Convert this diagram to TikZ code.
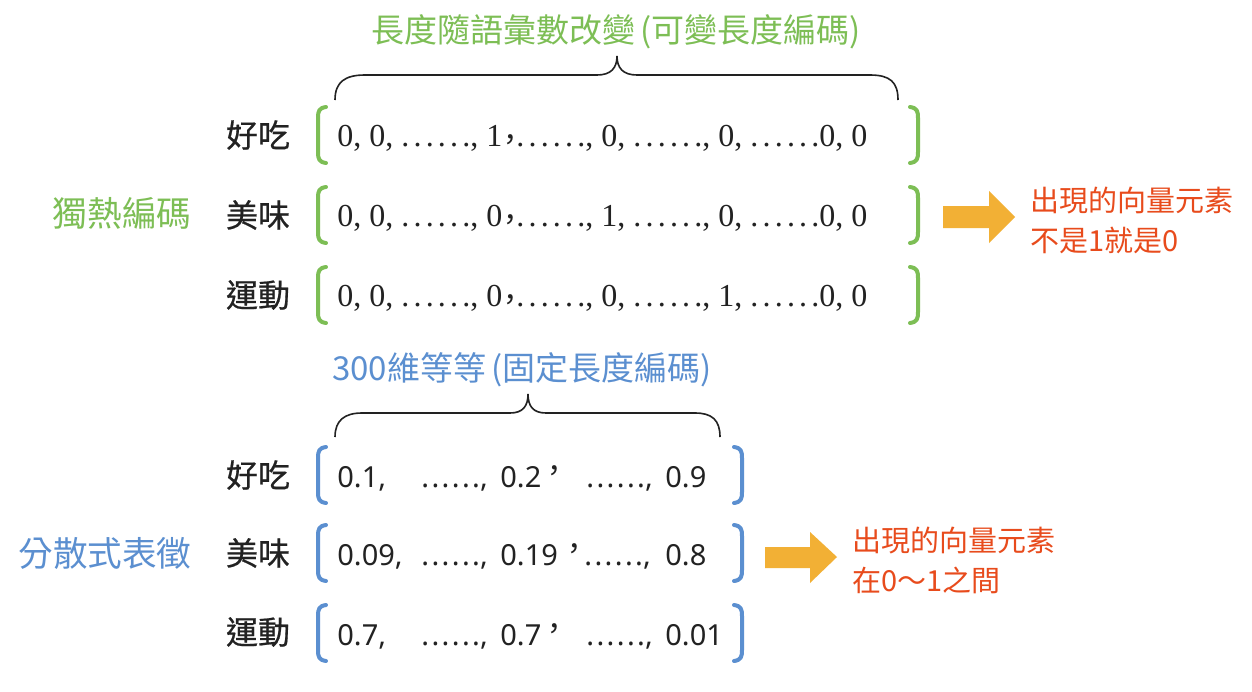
\documentclass[tikz,border=0pt]{standalone}
\usepackage{fontspec}
\setmainfont{Noto Sans CJK TC}
\newfontfamily\cjk{Noto Sans CJK TC}
\newfontfamily\cjkm[FakeBold=0.6]{Noto Sans CJK TC}
\newfontfamily\sernum{Liberation Serif}
\newfontfamily\sansnum{Noto Sans}
\definecolor{gr}{HTML}{7DBE55}
\definecolor{bl}{HTML}{5B8FD0}
\definecolor{og}{HTML}{F2B035}
\definecolor{rd}{HTML}{E84B1C}
\definecolor{ink}{HTML}{222222}
\newlength\dk
\newcommand\dd{.\kern\dk.\kern\dk.\kern\dk.\kern\dk.\kern\dk.}
\newcommand\fcomma{\makebox[1pt][c]{，}}
\begin{document}
\begin{tikzpicture}[x=0.5pt,y=-0.5pt,
  title/.style={font=\cjk\fontsize{16.5}{19}\selectfont, inner sep=0pt},
  side/.style={font=\cjk\fontsize{17.3}{20}\selectfont, inner sep=0pt},
  lab/.style={font=\cjkm\fontsize{16}{19}\selectfont, text=ink, inner sep=0pt},
  vecs/.style={font=\sernum\fontsize{16}{19}\selectfont\setlength\dk{2.1pt}, text=ink, inner sep=0pt, anchor=base west},
  vecn/.style={font=\sansnum\fontsize{14.5}{18}\selectfont\setlength\dk{1.2pt}, text=ink, inner sep=0pt, anchor=base west},
  fcm/.style={font=\cjk\fontsize{15}{18}\selectfont, text=ink, inner sep=0pt},
  note/.style={font=\cjk\fontsize{14.5}{20}\selectfont, text=rd, inner sep=0pt, anchor=west, align=left},
  brk/.style={line width=2pt, line cap=round},
  brace/.style={line width=0.8pt, draw=ink},
  blockarrow/.style={fill=og, draw=none}
]
\useasboundingbox[fill=white] (0,0) rectangle (1252,691);

% ---------- top part ----------
\node[title, text=gr] (t1) at (616,32) {長度隨語彙數改變\,(可變長度編碼)};
\draw[brace] (335,100) .. controls (335,82) and (345,75) .. (365,75) -- (597,75)
  .. controls (611,75) and (617,68) .. (617,56)
  .. controls (617,68) and (623,75) .. (637,75) -- (870,75)
  .. controls (890,75) and (898,82) .. (898,100);

\node[side, text=gr] (s1) at (122,213) {獨熱編碼};

\foreach \y in {135,215,295}{
  \draw[brk, draw=gr] (326,\y-28) .. controls (319,\y-27) and (318,\y-24) .. (318,\y-17) -- (318,\y+17)
     .. controls (318,\y+24) and (319,\y+27) .. (326,\y+28);
  \draw[brk, draw=gr] (910,\y-28) .. controls (917,\y-27) and (918,\y-24) .. (918,\y-17) -- (918,\y+17)
     .. controls (918,\y+24) and (917,\y+27) .. (910,\y+28);
}
\node[lab] (la) at (258,135) {好吃};
\node[lab] (lb) at (258,215) {美味};
\node[lab] (lc) at (258,295) {運動};

\node[vecs] (va1) at (337,146) {0, 0, \dd, 1};
\node[fcm]  (va2) at (510,143) {\fcomma};
\node[vecs] (va3) at (516,146) {\dd, 0, \dd, 0, \dd0, 0};
\node[vecs] (vb1) at (337,226) {0, 0, \dd, 0};
\node[fcm]  (vb2) at (510,223) {\fcomma};
\node[vecs] (vb3) at (516,226) {\dd, 1, \dd, 0, \dd0, 0};
\node[vecs] (vc1) at (337,306) {0, 0, \dd, 0};
\node[fcm]  (vc2) at (510,303) {\fcomma};
\node[vecs] (vc3) at (516,306) {\dd, 0, \dd, 1, \dd0, 0};

\fill[blockarrow] (943,206) -- (989,206) -- (989,191) -- (1015,217) -- (989,243) -- (989,228) -- (943,228) -- cycle;
\node[note] (n1) at (1030,220) {出現的向量元素\\不是1就是0};

% ---------- bottom part ----------
\node[title, text=bl] (t2) at (522,370) {300維等等\,(固定長度編碼)};
\draw[brace] (335,437) .. controls (335,420) and (345,413) .. (362,413) -- (510,413)
  .. controls (523,413) and (528,406) .. (528,394)
  .. controls (528,406) and (533,413) .. (546,413) -- (695,413)
  .. controls (712,413) and (720,420) .. (720,437);

\node[side, text=bl] (s2) at (105,553) {分散式表徵};

\foreach \y in {475,553,633}{
  \draw[brk, draw=bl] (326,\y-28) .. controls (319,\y-27) and (318,\y-24) .. (318,\y-17) -- (318,\y+17)
     .. controls (318,\y+24) and (319,\y+27) .. (326,\y+28);
  \draw[brk, draw=bl] (734,\y-28) .. controls (741,\y-27) and (742,\y-24) .. (742,\y-17) -- (742,\y+17)
     .. controls (742,\y+24) and (741,\y+27) .. (734,\y+28);
}
\node[lab] (ld) at (258,475) {好吃};
\node[lab] (le) at (258,553) {美味};
\node[lab] (lf) at (258,632) {運動};

\node[vecn] (vd1) at (337,487) {0.1,};
\node[vecn] (vd2) at (421,487) {\dd,};
\node[vecn] (vd3) at (500,487) {0.2};
\node[fcm]  (vd4) at (554,474) {\fcomma};
\node[vecn] (vd5) at (586,487) {\dd,};
\node[vecn] (vd6) at (665,487) {0.9};

\node[vecn] (ve1) at (337,565) {0.09,};
\node[vecn] (ve2) at (421,565) {\dd,};
\node[vecn] (ve3) at (500,565) {0.19};
\node[fcm]  (ve4) at (574,552) {\fcomma};
\node[vecn] (ve5) at (584,565) {\dd,};
\node[vecn] (ve6) at (665,565) {0.8};

\node[vecn] (vf1) at (337,645) {0.7,};
\node[vecn] (vf2) at (421,645) {\dd,};
\node[vecn] (vf3) at (500,645) {0.7};
\node[fcm]  (vf4) at (554,632) {\fcomma};
\node[vecn] (vf5) at (586,645) {\dd,};
\node[vecn] (vf6) at (665,645) {0.01};

\fill[blockarrow] (765,547) -- (810,547) -- (810,532) -- (837,557) -- (810,583) -- (810,568) -- (765,568) -- cycle;
\node[note] (n2) at (852,560) {出現的向量元素\\在0～1之間};
\end{tikzpicture}
\end{document}
